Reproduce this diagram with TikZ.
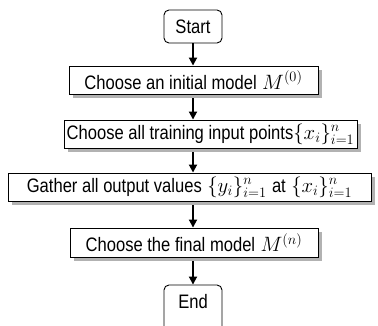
\documentclass[tikz,border=0pt]{standalone}
\usepackage{graphicx}
\usepackage{fontspec}
\setmainfont{Liberation Sans}
\usetikzlibrary{arrows.meta,shadows}
\newcommand\mth[1]{{\fontsize{20.5}{24}\selectfont$#1$}}
\newcommand\tx[1]{\scalebox{0.85}[1]{#1}}
\tikzset{
  base/.style={draw=black, line width=0.9pt, inner sep=0pt, align=center,
    font=\fontsize{19.5}{22}\selectfont, fill=white},
  termbox/.style={base, rounded corners=5pt},
  procbox/.style={base, drop shadow={shadow xshift=4pt, shadow yshift=-4pt,
    fill=gray!60, opacity=1}},
  arr/.style={line width=1.8pt, -{Triangle[length=8pt,width=8pt]}}
}
\begin{document}
\begin{tikzpicture}[x=1pt,y=-1pt]
\useasboundingbox (0,0) rectangle (378,326);
\clip (0,0) rectangle (378,326);
\node[termbox, minimum width=58pt, minimum height=33pt] (start) at (193,26.5) {\tx{Start}};
\node[procbox, minimum width=249pt, minimum height=28pt] (b1) at (193.5,80) {\tx{Choose an initial model} \mth{M^{(0)}}};
\node[procbox, minimum width=293pt, minimum height=28pt] (b2) at (210.5,134) {\tx{Choose all training input points}\mth{\{x_i\}_{i=1}^n}};
\node[procbox, minimum width=363pt, minimum height=28pt] (b3) at (189.5,187) {\tx{Gather all output values} \mth{\{y_i\}_{i=1}^n} \tx{at} \mth{\{x_i\}_{i=1}^n}};
\node[procbox, minimum width=248pt, minimum height=29pt] (b4) at (194,242.5) {\tx{Choose the final model} \mth{M^{(n)}}};
\node[termbox, minimum width=58pt, minimum height=50pt] (end) at (193,310) {};
\node[font=\fontsize{19.5}{22}\selectfont, inner sep=0pt] (endtxt) at (193,302) {\tx{End}};
\draw[arr] (start.south) -- (start.south |- b1.north);
\draw[arr] ([yshift=-4pt]start.south |- b1.south) -- (start.south |- b2.north);
\draw[arr] ([yshift=-4pt]start.south |- b2.south) -- (start.south |- b3.north);
\draw[arr] ([yshift=-4pt]start.south |- b3.south) -- (start.south |- b4.north);
\draw[arr] ([yshift=-4pt]start.south |- b4.south) -- (end.north);
\end{tikzpicture}
\end{document}
